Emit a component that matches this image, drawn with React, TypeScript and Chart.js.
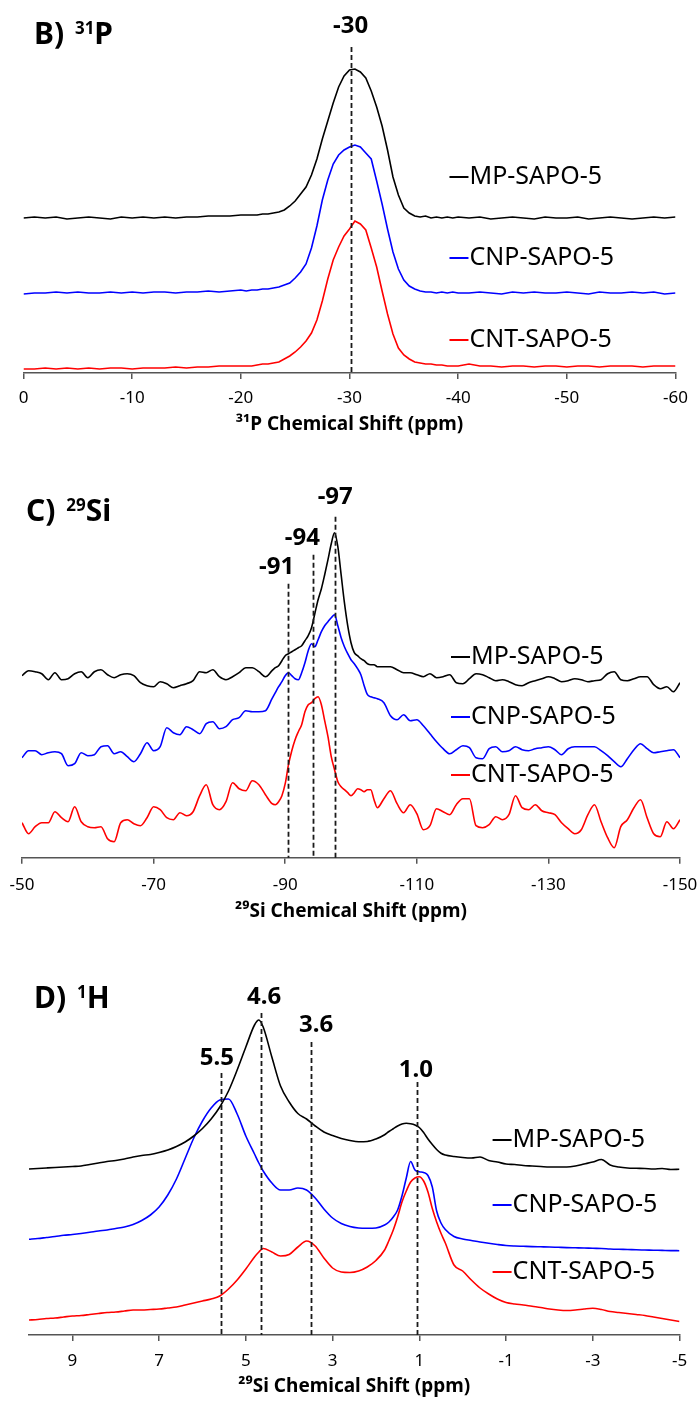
import React, { useEffect, useRef } from "react";
import { Chart, registerables } from "chart.js";
Chart.register(...registerables);

const FONT = "'Noto Sans', 'Open Sans', 'DejaVu Sans', sans-serif";

const seriesNames = ["MP-SAPO-5", "CNP-SAPO-5", "CNT-SAPO-5"];
const seriesColors = ["#000000", "#0000ff", "#ff0000"];

// ---------------- Panel B (31P) ----------------
const xB = [0, -1, -2, -3, -4, -5, -6, -7, -8, -9, -10, -11, -12, -13, -14, -15, -16, -17, -18, -19, -20,
  -20.5, -21, -21.5, -22, -22.5, -23, -23.5, -24, -24.5, -25, -25.5, -26, -26.5, -27, -27.5, -28, -28.5, -29, -29.5, -30,
  -30.5, -31, -31.5, -32, -32.5, -33, -33.5, -34, -34.5, -35, -35.5, -36, -36.5, -37, -37.5, -38, -38.5, -39, -39.5, -40,
  -41, -42, -43, -44, -45, -46, -47, -48, -49, -50, -51, -52, -53, -54, -55, -56, -57, -58, -59, -60];
const mpB = [0, 1, 0, 1, -1, 0, 1, 0, -1, 1, 0, 1, 0, 1, 0, 1, 1, 2, 2, 2, 3,
  3, 3, 3, 4, 4, 5, 6, 8, 12, 17, 24, 31, 43, 59, 79, 97, 115, 131, 142, 148,
  149, 146, 140, 127, 111, 92, 68, 41, 23, 10, 5, 2, 1, 2, 0, 1, 0, 1, 0, 1,
  0, 1, -1, 0, 1, 0, -1, 1, 0, 0, 1, -1, 0, 1, 0, -1, 0, 1, 0, 1];
const cnpB = [-1, 0, 0, 1, 0, 1, 0, 0, 1, 0, 1, 0, 1, 1, 0, 1, 1, 2, 1, 2, 3,
  2, 3, 3, 4, 4, 5, 6, 8, 10, 15, 21, 29, 45, 67, 93, 113, 129, 138, 143, 146,
  148, 146, 140, 134, 112, 89, 64, 41, 24, 13, 7, 4, 2, 1, 1, 0, 1, 0, 1, 0,
  0, 1, 0, -1, 1, 0, 1, 0, 0, 1, 0, -1, 1, 0, 0, 1, 0, 1, -1, 0];
const cntB = [0, 0, 1, 0, 1, 0, 1, 0, 1, 1, 0, 1, 1, 1, 2, 1, 2, 2, 3, 3, 3,
  3, 3, 4, 5, 5, 6, 7, 10, 13, 17, 22, 28, 36, 49, 68, 90, 109, 122, 133, 140,
  148, 145, 139, 121, 102, 78, 55, 35, 21, 14, 10, 7, 6, 5, 5, 4, 4, 3, 3, 3,
  5, 3, 3, 2, 3, 3, 2, 3, 3, 2, 3, 3, 2, 3, 3, 3, 2, 3, 3, 3];
const offsetsB = [155, 80, 4];
const ticksB = [0, -10, -20, -30, -40, -50, -60];

// ---------------- Panel C (29Si) ----------------
const xC = [-50, -51, -52, -53, -54, -55, -56, -57, -58, -59, -60, -61, -62, -63, -64, -65, -66, -67, -68, -69,
  -70, -71, -72, -73, -74, -75, -76, -77, -78, -79, -80, -81, -82, -83, -84, -85, -86, -87, -88,
  -88.5, -89, -89.5, -90, -90.5, -91, -91.5, -92, -92.5, -93, -93.5, -94, -94.5, -95, -95.5, -96,
  -96.5, -97, -97.5, -98, -98.5, -99, -99.5, -100, -100.5, -101, -101.5, -102, -102.5, -103, -103.5, -104,
  -105, -106, -107, -108, -109, -110, -111, -112, -113, -114, -115, -116, -117, -118, -119, -120,
  -121, -122, -123, -124, -125, -126, -127, -128, -129, -130, -131, -132, -133, -134, -135, -136,
  -137, -138, -139, -140, -141, -142, -143, -144, -145, -146, -147, -148, -149, -150];
const mpC = [2, 7, 6, 4, -2, 5, -2, -1, 4, 6, 0, 6, 8, 3, 0, 3, 4, 2, -5, -8, -9, -4, -6, -10, -8, -6, -3, 6, 5, 8, 1, -2, 1, 5, 10, 10, 6, 1, 7,
  10, 12, 17, 22, 24, 26, 28, 30, 32, 37, 42, 50, 64, 78, 89, 103, 118, 134, 145, 131, 103, 75, 52, 35, 25, 22, 19, 17, 14, 13, 13, 11,
  11, 11, 8, 5, 5, 3, 1, 4, 0, 1, 3, -5, -6, -1, 4, 3, 0, -3, -2, -4, -7, -8, -5, -3, -1, 1, -1, -4, -3, -1, -2, -4, -3, -2, 4, 6, -2, -3, -1, 1, 1, -7, -11, -9, -14, -5];
const cnpC = [-4, 3, 3, -1, 1, 2, 0, -12, -10, 1, -2, -1, 7, 8, 0, 2, -3, -8, 0, 11, 3, 7, 26, 21, 19, 27, 24, 20, 30, 32, 25, 27, 34, 36, 43, 42, 42, 43, 55,
  61, 67, 72, 78, 81, 78, 75, 74, 81, 91, 103, 110, 107, 114, 122, 128, 132, 136, 139, 128, 116, 107, 100, 94, 90, 85, 79, 68, 59, 57, 56, 55,
  51, 38, 34, 39, 33, 34, 28, 20, 12, 5, 0, 4, 8, 6, -4, -5, 5, 7, 2, 3, 7, 4, 3, 5, 6, 7, 4, -1, 5, 7, 7, 7, 7, 3, -2, -8, -13, -5, 4, 10, 5, 1, 2, 3, 4, -4];
const cntC = [5, -6, 1, 5, 5, 16, 10, 6, 21, 6, 1, 0, 1, -11, -14, 5, 8, 4, 2, 10, 21, 18, 10, 8, 15, 12, 16, 32, 43, 23, 18, 26, 45, 39, 37, 47, 43, 33, 24,
  23, 26, 32, 44, 63, 77, 88, 96, 103, 116, 123, 125, 129, 131, 123, 107, 91, 71, 58, 46, 41, 38, 35, 32, 35, 39, 38, 36, 38, 38, 28, 20,
  29, 37, 24, 15, 23, 14, -2, 2, 19, 16, 13, 23, 29, 29, 2, 0, 3, 11, 8, 13, 32, 20, 18, 23, 17, 15, 13, 5, -1, -6, -2, 13, 23, 6, -10, -20, 1, 8, 20, 28, 10, -6, -9, 6, -1, 8];
const offsetsC = [180, 104, 30];
const ticksC = [-50, -70, -90, -110, -130, -150];

// ---------------- Panel D (1H) ----------------
const xD = [10, 9.8, 9.6, 9.4, 9.2, 9, 8.8, 8.6, 8.4, 8.2, 8, 7.8, 7.6, 7.4, 7.2, 7, 6.8, 6.6, 6.4, 6.2, 6, 5.8, 5.6, 5.4, 5.2,
  5, 4.8, 4.7, 4.6, 4.4, 4.2, 4, 3.8, 3.6, 3.4, 3.2, 3, 2.8, 2.6, 2.4, 2.2, 2, 1.8,
  1.7, 1.6, 1.5, 1.4, 1.3, 1.2, 1.1, 1, 0.9, 0.8, 0.7, 0.6, 0.5,
  0.4, 0.2, 0, -0.2, -0.4, -0.6, -0.8, -1, -1.2, -1.4, -1.6, -1.8, -2, -2.2, -2.4, -2.6, -2.8, -3, -3.2, -3.4,
  -3.6, -3.8, -4, -4.2, -4.4, -4.6, -4.8, -5];
const mpD = [0, 0.5, 1, 1.5, 2, 2.5, 3, 4.5, 6, 7.5, 8.5, 10, 12, 13.5, 14.5, 16.5, 19, 22.5, 27, 33, 40.5, 50, 62, 78, 99,
  122, 144, 149, 142, 112, 83, 67, 55.5, 50, 43, 37, 33.5, 30.5, 28.5, 27.3, 27.5, 30, 34.3,
  37.5, 40.3, 43, 45, 45.7, 45.2, 44, 41.5, 36.5, 30, 24.5, 19.5, 15.7,
  14, 12.5, 11.5, 11, 12, 8.5, 7, 5, 4.5, 3.5, 3, 2.5, 2, 2, 2, 3, 5, 7, 9.5, 4, 2, 1, 0.7, 0.5, 0, 0.5, -0.5, -0.3];
const cnpD = [11.7, 12.5, 13.5, 14.5, 15.7, 16.5, 17.5, 18.7, 20, 21, 22.5, 24, 26.5, 30.5, 36, 44, 56, 72, 92.5, 113, 130, 143, 151, 152, 137,
  115, 97, 88, 80, 68, 61, 61, 63, 61, 53, 42, 33, 27.5, 24.5, 23, 22.7, 23, 26,
  29, 34, 41, 55, 73, 89.5, 81, 79.3, 78.5, 75.5, 64, 40, 28,
  21.5, 14.5, 12, 10.5, 9, 7.7, 6.5, 5.5, 5, 4.7, 4.4, 4.2, 4, 3.7, 3.4, 3.2, 3, 2.7, 2.5, 2, 1.7, 1.5, 1.2, 1, 0.8, 0.6, 0.4, 0.3];
const cntD = [1, 1.5, 2.5, 3, 4, 5, 5.5, 6.5, 7.5, 8.5, 9, 10, 11, 11, 11.5, 12, 13, 14, 16, 18, 20, 22, 25, 32, 41,
  52, 64, 69, 72.5, 69, 65, 66.5, 74, 80, 75, 63, 53, 49, 48.5, 50, 54, 60.5, 71,
  80.5, 91, 104, 119, 130, 139, 143, 144.3, 140, 129, 112.5, 99, 87.7,
  78, 56, 50, 41, 33, 27, 22, 18.5, 17, 16, 14.7, 13.5, 12, 11, 10.5, 11, 12, 12.7, 11.5, 9.5, 8.5, 7.5, 6.5, 5.5, 4, 2.5, 1, -0.5];
const offsetsD = [166, 84, 14];
const ticksD = [9, 7, 5, 3, 1, -1, -3, -5];

type Panel = {
  top: number; height: number;
  x: number[]; series: number[][]; offsets: number[];
  xmin: number; xmax: number; ymax: number; ticks: number[];
  tickPad: number; titlePadTop: number; smooth: boolean;
  padding: { left: number; right: number; top: number; bottom: number };
  axisTitle: string;
  title: { pre: string; sup: string; post: string; x: number; baseline: number };
  peaks: { x: number; top: number }[];
  peakLabels: { text: string; x: number; y: number }[];
  legendX: number; legendY: number[];
};

const panels: Panel[] = [
  {
    top: 0, height: 445, x: xB, series: [mpB, cnpB, cntB], offsets: offsetsB,
    xmin: -60, xmax: 0, ymax: 328, ticks: ticksB, tickPad: 8.8, titlePadTop: 2.3, smooth: false,
    padding: { left: 23.5, right: 24.5, top: 45, bottom: 14.3 },
    axisTitle: "\u00B3\u00B9P Chemical Shift (ppm)",
    title: { pre: "B)", sup: "31", post: "P", x: 34, baseline: 43.5 },
    peaks: [{ x: -30.1, top: 326 }],
    peakLabels: [{ text: "-30", x: -30.1, y: 347 }],
    legendX: -39.2, legendY: [196, 115, 33],
  },
  {
    top: 445, height: 485, x: xC, series: [mpC, cnpC, cntC], offsets: offsetsC,
    xmin: -150, xmax: -50, ymax: 372.7, ticks: ticksC, tickPad: 11.1, titlePadTop: 0, smooth: true,
    padding: { left: 22, right: 20, top: 40, bottom: 12.3 },
    axisTitle: "\u00B2\u2079Si Chemical Shift (ppm)",
    title: { pre: "C)", sup: "29", post: "Si", x: 26, baseline: 76 },
    peaks: [{ x: -90.4, top: 274 }, { x: -94.2, top: 303 }, { x: -97.6, top: 341 }],
    peakLabels: [{ text: "-91", x: -88.7, y: 291 }, { text: "-94", x: -92.6, y: 320 }, { text: "-97", x: -97.6, y: 361 }],
    legendX: -115.2, legendY: [200.7, 140.7, 82.7],
  },
  {
    top: 930, height: 471, x: xD, series: [mpD, cnpD, cntD], offsets: offsetsD,
    xmin: -5, xmax: 10, ymax: 365, ticks: ticksD, tickPad: 9.8, titlePadTop: 0.3, smooth: true,
    padding: { left: 29, right: 20.5, top: 40, bottom: 8.3 },
    axisTitle: "\u00B2\u2079Si Chemical Shift (ppm)",
    title: { pre: "D)", sup: "1", post: "H", x: 34, baseline: 78 },
    peaks: [{ x: 5.57, top: 262 }, { x: 4.64, top: 322 }, { x: 3.5, top: 293 }, { x: 1.05, top: 253 }],
    peakLabels: [{ text: "5.5", x: 5.67, y: 277 }, { text: "4.6", x: 4.58, y: 338 }, { text: "3.6", x: 3.38, y: 310 }, { text: "1.0", x: 1.08, y: 265 }],
    legendX: -0.69, legendY: [195, 130, 63],
  },
];

function drawAnnotations(chart: any, p: Panel) {
  const ctx: CanvasRenderingContext2D = chart.ctx;
  const xs = chart.scales.x;
  const ys = chart.scales.y;
  ctx.save();
  // dashed reference lines
  ctx.strokeStyle = "#1a1a1a";
  ctx.lineWidth = 1.8;
  ctx.setLineDash([5, 3]);
  for (const d of p.peaks) {
    const px = Math.round(xs.getPixelForValue(d.x)) + 0.5;
    ctx.beginPath();
    ctx.moveTo(px, ys.getPixelForValue(d.top));
    ctx.lineTo(px, ys.getPixelForValue(0));
    ctx.stroke();
  }
  ctx.setLineDash([]);
  // peak labels
  ctx.fillStyle = "#000";
  ctx.font = `bold 24px ${FONT}`;
  ctx.textAlign = "center";
  ctx.textBaseline = "middle";
  for (const l of p.peakLabels) {
    ctx.fillText(l.text, xs.getPixelForValue(l.x), ys.getPixelForValue(l.y));
  }
  // inline legend
  ctx.font = `25px ${FONT}`;
  ctx.textAlign = "left";
  p.legendY.forEach((yv, i) => {
    const px = xs.getPixelForValue(p.legendX);
    const py = ys.getPixelForValue(yv);
    ctx.strokeStyle = seriesColors[i];
    ctx.lineWidth = 2;
    ctx.beginPath();
    ctx.moveTo(px, py);
    ctx.lineTo(px + 19, py);
    ctx.stroke();
    ctx.fillStyle = "#000";
    ctx.fillText(seriesNames[i], px + 20, py);
  });
  // panel title with superscript
  const t = p.title;
  ctx.textBaseline = "alphabetic";
  ctx.font = `bold 30px ${FONT}`;
  let cx = t.x;
  ctx.fillText(t.pre, cx, t.baseline);
  cx += ctx.measureText(t.pre + " ").width + 3;
  ctx.font = `bold 17px ${FONT}`;
  ctx.fillText(t.sup, cx, t.baseline - 10);
  cx += ctx.measureText(t.sup).width;
  ctx.font = `bold 30px ${FONT}`;
  ctx.fillText(t.post, cx, t.baseline);
  ctx.restore();
}

function PanelChart({ p }: { p: Panel }) {
  const ref = useRef<HTMLCanvasElement>(null);
  useEffect(() => {
    const datasets = p.series.map((s, k) => ({
      label: seriesNames[k],
      data: p.x.map((xv, i) => ({ x: xv, y: s[i] + p.offsets[k] })),
      borderColor: seriesColors[k],
      borderWidth: 1.6,
      pointRadius: 0,
      tension: 0,
      cubicInterpolationMode: p.smooth ? "monotone" : "default",
      fill: false,
    }));
    const chart = new Chart(ref.current as HTMLCanvasElement, {
      type: "line",
      data: { datasets },
      options: {
        responsive: false,
        animation: false,
        events: [],
        layout: { padding: p.padding },
        plugins: { legend: { display: false }, tooltip: { enabled: false } },
        scales: {
          x: {
            type: "linear",
            min: p.xmin,
            max: p.xmax,
            reverse: true,
            afterBuildTicks: (scale: any) => {
              scale.ticks = p.ticks.map((v) => ({ value: v }));
            },
            afterFit: (scale: any) => {
              scale.paddingLeft = 0;
              scale.paddingRight = 0;
            },
            ticks: {
              autoSkip: false,
              maxRotation: 0,
              padding: p.tickPad,
              color: "#000",
              font: { family: FONT, size: 17, lineHeight: 1.2 },
              callback: (v: any) => String(v),
            },
            grid: { drawOnChartArea: false, drawTicks: true, tickLength: 6, color: "#555", lineWidth: 1.5 },
            border: { display: true, color: "#555", width: 1.5 },
            title: {
              display: true,
              text: p.axisTitle,
              color: "#000",
              font: { family: FONT, size: 19, weight: "bold", lineHeight: 0.6 },
              padding: { top: p.titlePadTop, bottom: 0 },
            },
          },
          y: { display: false, min: 0, max: p.ymax },
        },
      } as any,
      plugins: [{ id: "annot", afterDraw: (c: any) => drawAnnotations(c, p) }],
    });
    return () => chart.destroy();
  }, []);
  return (
    <canvas
      ref={ref}
      width={700}
      height={p.height}
      style={{ position: "absolute", left: 0, top: p.top, width: 700, height: p.height }}
    />
  );
}

export default function App() {
  return (
    <div style={{ position: "absolute", left: 0, top: 0, width: 700, height: 1401, background: "#fff" }}>
      {panels.map((p, i) => (
        <PanelChart key={i} p={p} />
      ))}
    </div>
  );
}
